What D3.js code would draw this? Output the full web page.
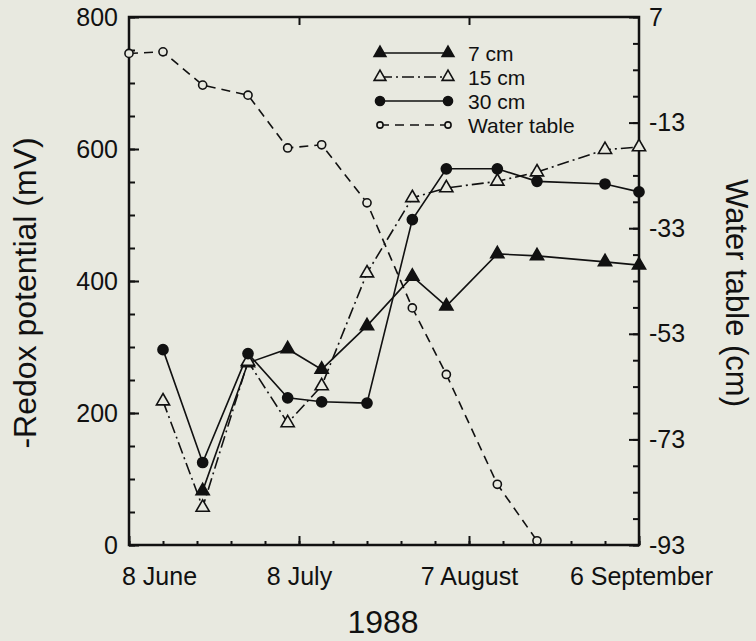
<!DOCTYPE html>
<html lang='en'>
<head>
  <meta charset="utf-8">
  <title>Redox potential and water table</title>
  <script src='https://cdn.jsdelivr.net/npm/d3@7/dist/d3.min.js'></script>
  <style>
    body { margin: 0; background: #e8e9e0; }
    text { font-family: "Liberation Sans", Arial, Helvetica, sans-serif; fill: #111; }
  </style>
</head>
<body>
  <script>
    // sampling dates (1988)
    const dates = ["1988-06-08", "1988-06-14", "1988-06-21", "1988-06-29", "1988-07-06",
      "1988-07-12", "1988-07-20", "1988-07-28", "1988-08-03", "1988-08-12",
      "1988-08-19", "1988-08-31", "1988-09-06"];
    // -redox potential (mV) at three depths, null = not measured
    const redox7 = [null, null, 82, 276, 297, 266, 332, 407, 362, 441, 438, 429, 424];
    const redox15 = [null, 218, 57, 278, 185, 241, 412, 526, 541, 551, 565, 599, 603];
    const redox30 = [null, 296, 125, 290, 223, 217, 215, 493, 570, 570, 551, 547, 535];
    // water table (cm)
    const waterTable = [0.1, 0.4, -5.9, -7.8, -17.8, -17.2, -28.2, -48.1, -60.7, -81.5, -92.2, null, null];

    const xTickDates = ["1988-06-08", "1988-07-08", "1988-08-07", "1988-09-06"];
    const xTickLabels = ["8 June", "8 July", "7 August", "6 September"];
    const leftTicks = [0, 200, 400, 600, 800];
    const rightTicks = [7, -13, -33, -53, -73, -93];

    const parse = d3.timeParse("%Y-%m-%d");
    let W = 756, H = 641;
    let plot = { left: 129, right: 639, top: 17, bottom: 545 };

    let svg = d3.select("body").append("svg")
      .attr("width", W).attr("height", H);
    svg.append("rect").attr("width", W).attr("height", H).attr("fill", "#e8e9e0");

    // scales
    let x = d3.scaleTime()
      .domain([parse("1988-06-08"), parse("1988-09-06")])
      .range([plot.left, plot.right]);
    let yL = d3.scaleLinear().domain([0, 800]).range([plot.bottom, plot.top]);
    let yR = d3.scaleLinear().domain([-93, 7]).range([plot.bottom, plot.top]);

    // axes: ticks point inwards, labels outside
    let leftMinor = svg.append("g").attr("transform", `translate(${plot.left},0)`)
      .call(d3.axisLeft(yL).tickValues(d3.range(0, 801, 50)).tickSize(-6).tickFormat(""));
    let leftMajor = svg.append("g").attr("transform", `translate(${plot.left},0)`)
      .call(d3.axisLeft(yL).tickValues(leftTicks).tickSize(-10).tickPadding(11).tickFormat(d => String(d)));
    let rightMinor = svg.append("g").attr("transform", `translate(${plot.right},0)`)
      .call(d3.axisRight(yR).tickValues(d3.range(-93, 8, 5)).tickSize(-6).tickFormat(""));
    let rightMajor = svg.append("g").attr("transform", `translate(${plot.right},0)`)
      .call(d3.axisRight(yR).tickValues(rightTicks).tickSize(-10).tickPadding(9).tickFormat(d => String(d)));

    let start = parse("1988-06-08");
    let minorDates = d3.range(0, 91, 6).map(d => d3.timeDay.offset(start, d));
    let bottomMinor = svg.append("g").attr("transform", `translate(0,${plot.bottom})`)
      .call(d3.axisBottom(x).tickValues(minorDates).tickSize(-4).tickFormat(""));
    let bottomMajor = svg.append("g").attr("transform", `translate(0,${plot.bottom})`)
      .call(d3.axisBottom(x).tickValues(xTickDates.map(parse)).tickSize(-9).tickPadding(22)
        .tickFormat((d, i) => xTickLabels[i]));
    let topMajor = svg.append("g").attr("transform", `translate(0,${plot.top})`)
      .call(d3.axisTop(x).tickValues(xTickDates.slice(1, 3).map(parse)).tickSize(-8).tickFormat(""));

    [leftMinor, leftMajor, rightMinor, rightMajor, bottomMinor, bottomMajor, topMajor].forEach(g => {
      g.select(".domain").remove();
      g.selectAll("line").attr("stroke", "#111").attr("stroke-width", 2);
      g.selectAll("text").attr("font-size", 25).attr("fill", "#111");
    });
    // first date label sits to the right of the corner
    bottomMajor.selectAll(".tick text").filter((d, i) => i === 0).attr("dx", 30);
    bottomMajor.selectAll(".tick text").filter((d, i) => i === 3).attr("dx", 2);
    rightMajor.selectAll(".tick text").attr("dx", 1);

    // frame
    svg.append("rect")
      .attr("x", plot.left).attr("y", plot.top)
      .attr("width", plot.right - plot.left).attr("height", plot.bottom - plot.top)
      .attr("fill", "none").attr("stroke", "#111").attr("stroke-width", 2.5);

    // series
    let series = [
      { name: "7 cm", values: redox7, scale: yL, dash: null, symbol: d3.symbolTriangle, fill: "#111", size: 75 },
      { name: "15 cm", values: redox15, scale: yL, dash: "12,4,2,4", symbol: d3.symbolTriangle, fill: "#e8e9e0", size: 75 },
      { name: "30 cm", values: redox30, scale: yL, dash: null, symbol: d3.symbolCircle, fill: "#111", size: 80 },
      { name: "Water table", values: waterTable, scale: yR, dash: "9,6", symbol: d3.symbolCircle, fill: "#e8e9e0", size: 52 }
    ];

    let lines = svg.append("g");
    let marks = svg.append("g");
    series.forEach(s => {
      let pts = dates.map((d, i) => ({ date: parse(d), v: s.values[i] })).filter(p => p.v !== null);
      let line = d3.line().x(p => x(p.date)).y(p => s.scale(p.v));
      lines.append("path")
        .attr("d", line(pts))
        .attr("fill", "none")
        .attr("stroke", "#111")
        .attr("stroke-width", 1.6)
        .attr("stroke-dasharray", s.dash);
      marks.selectAll(null).data(pts).join("path")
        .attr("d", d3.symbol().type(s.symbol).size(s.size))
        .attr("transform", p => `translate(${x(p.date)},${s.scale(p.v)})`)
        .attr("fill", s.fill)
        .attr("stroke", "#111")
        .attr("stroke-width", 1.6);
    });

    // legend
    let legend = svg.append("g").attr("transform", "translate(380,53)");
    series.forEach((s, i) => {
      let row = legend.append("g").attr("transform", `translate(0,${i * 24})`);
      row.append("line")
        .attr("x1", 0).attr("x2", 68).attr("y1", 0).attr("y2", 0)
        .attr("stroke", "#111").attr("stroke-width", 1.6)
        .attr("stroke-dasharray", s.dash);
      [0, 68].forEach(px => {
        row.append("path")
          .attr("d", d3.symbol().type(s.symbol).size(i === 3 ? 30 : s.size * 0.8))
          .attr("transform", `translate(${px},0)`)
          .attr("fill", s.fill).attr("stroke", "#111").attr("stroke-width", 1.6);
      });
      row.append("text").text(s.name)
        .attr("x", 88).attr("y", 0)
        .attr("dominant-baseline", "central")
        .attr("font-size", 21);
    });

    // axis titles
    svg.append("text").text("-Redox potential (mV)")
      .attr("transform", `translate(36,293) rotate(-90)`)
      .attr("text-anchor", "middle")
      .attr("font-size", 32);
    svg.append("text").text("Water table (cm)")
      .attr("transform", `translate(726,293) rotate(90)`)
      .attr("text-anchor", "middle")
      .attr("font-size", 31);
    svg.append("text").text("1988")
      .attr("x", 383).attr("y", 633)
      .attr("text-anchor", "middle")
      .attr("font-size", 32);
  </script>
</body>
</html>
